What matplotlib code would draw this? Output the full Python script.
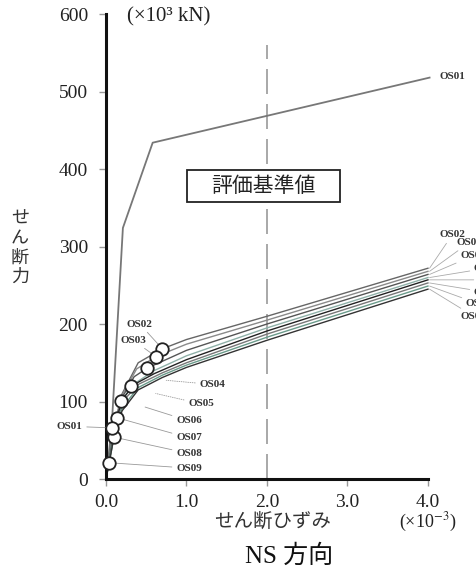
import matplotlib
matplotlib.use("Agg")
import matplotlib.pyplot as plt
from matplotlib.patches import Rectangle

plt.rcParams['font.family'] = ['Liberation Serif', 'Noto Sans CJK JP']
plt.rcParams['mathtext.fontset'] = 'stix'

# OS01 (stiff wall)
os01_x = [0.0, 0.07, 0.21, 0.58, 4.02]
os01_y = [0, 66, 324, 434, 518]
os01_marker = (0.07, 66)

# OS02 .. OS09 skeleton curves
names = ['OS02', 'OS03', 'OS04', 'OS05', 'OS06', 'OS07', 'OS08', 'OS09']
curve_x = [
    [0, 0.08, 0.2, 0.4, 0.70, 1.0, 2.0, 4.0],
    [0, 0.08, 0.2, 0.38, 0.62, 1.0, 2.0, 4.0],
    [0, 0.08, 0.2, 0.35, 0.51, 1.0, 2.0, 4.0],
    [0, 0.08, 0.2, 0.31, 0.6, 1.0, 2.0, 4.0],
    [0, 0.08, 0.19, 0.35, 0.6, 1.0, 2.0, 4.0],
    [0, 0.14, 0.25, 0.4, 0.7, 1.0, 2.0, 4.0],
    [0, 0.10, 0.2, 0.4, 0.7, 1.0, 2.0, 4.0],
    [0, 0.04, 0.1, 0.2, 0.4, 0.7, 1.0, 2.0, 4.0],
]
curve_y = [
    [0, 60, 110, 150, 168, 180, 210, 272],
    [0, 58, 108, 142, 158, 174, 205, 268],
    [0, 56, 105, 132, 143, 166, 200, 264],
    [0, 52, 100, 120, 140, 159, 195, 260],
    [0, 48, 101, 122, 136, 154, 191, 257],
    [0, 79, 105, 122, 137, 150, 187, 253],
    [0, 54, 92, 118, 134, 147, 183, 249],
    [0, 21, 55, 88, 115, 131, 144, 179, 245],
]
marker_x = [0.70, 0.62, 0.51, 0.31, 0.19, 0.14, 0.10, 0.04]
marker_y = [168, 158, 143, 120, 101, 79, 54, 21]
colors = ['#666666', '#8a8a8a', '#555555', '#8fb0a8', '#222222', '#777777', '#6a9a8a', '#333333']

# label positions (left cluster) and right-end fan labels
left_lab_x = [0.42, 0.34, 1.16, 1.02, 0.87, 0.87, 0.87, 0.87]
left_lab_y = [200, 179, 122, 97, 75, 53, 33, 14]
left_tip_x = [0.70, 0.62, 0.68, 0.55, 0.42, 0.14, 0.10, 0.04]
left_tip_y = [168, 158, 128, 112, 95, 79, 54, 21]
right_lab_x = [4.14, 4.35, 4.40, 4.57, 4.62, 4.57, 4.47, 4.41]
right_lab_y = [315, 305, 288, 272, 257, 241, 226, 210]

fig = plt.figure(figsize=(4.77, 5.74), dpi=100)
ax = fig.add_axes([0.2222, 0.1655, 0.675, 0.810])
ax.set_xlim(0, 4.0)
ax.set_ylim(0, 600)

# reference line at 2.0
ax.plot([2.0, 2.0], [0, 560], color='#9a9a9a', lw=1.2, dashes=(15, 6), zorder=1)

ax.plot(os01_x, os01_y, color='#777777', lw=1.3, clip_on=False, zorder=2)
for xs, ys, c in zip(curve_x, curve_y, colors):
    ax.plot(xs, ys, color=c, lw=1.0, clip_on=False, zorder=2)

ax.plot(marker_x, marker_y, 'o', ms=9, mfc='white', mec='#222222', mew=1.3,
        clip_on=False, zorder=4)
ax.plot(*os01_marker, 'o', ms=9, mfc='white', mec='#222222', mew=1.3,
        clip_on=False, zorder=4)

lab_kw = dict(fontsize=8, fontweight='bold', color='#333333')
for i, n in enumerate(names):
    ls = ':' if n in ('OS04', 'OS05') else '-'
    ax.annotate(n, xy=(left_tip_x[i], left_tip_y[i]), xytext=(left_lab_x[i], left_lab_y[i]),
                ha='center' if i < 2 else 'left', va='center',
                arrowprops=dict(arrowstyle='-', color='#999999', lw=0.6, ls=ls,
                                shrinkA=1, shrinkB=4),
                annotation_clip=False, **lab_kw)
    # right-end labels run off the page edge, as in the source figure
    ax.annotate(n, xy=(4.02, curve_y[i][-1]), xytext=(right_lab_x[i], right_lab_y[i]),
                ha='left', va='center',
                arrowprops=dict(arrowstyle='-', color='#aaaaaa', lw=0.6, shrinkA=1, shrinkB=0),
                annotation_clip=False, **lab_kw)

ax.annotate('OS01', xy=os01_marker, xytext=(-0.45, 68), ha='center', va='center',
            arrowprops=dict(arrowstyle='-', color='#999999', lw=0.6, shrinkA=1, shrinkB=4),
            annotation_clip=False, **lab_kw)
ax.text(4.14, 520, 'OS01', ha='left', va='center', clip_on=False, **lab_kw)

# evaluation box
ax.add_patch(Rectangle((1.01, 357), 1.90, 42, transform=ax.transData,
                       facecolor='white', edgecolor='#222222', lw=1.3, zorder=3))
ax.text(1.96, 378, '評価基準値', ha='center', va='center', fontsize=15,
        family=['Noto Sans CJK JP'], color='#222222', zorder=5)

ax.text(0.26, 597, '(×10³ kN)', ha='left', va='center', fontsize=15, clip_on=False,
        color='#222222')

# axes styling
for s in ('top', 'right'):
    ax.spines[s].set_visible(False)
for s in ('left', 'bottom'):
    ax.spines[s].set_linewidth(2.2)
    ax.spines[s].set_color('#111111')
ax.set_xticks([0, 1, 2, 3, 4])
ax.set_xticklabels(['0.0', '1.0', '2.0', '3.0', '4.0'])
ax.set_yticks([0, 100, 200, 300, 400, 500, 600])
ax.tick_params(axis='both', direction='out', length=5, width=1.0, color='#999999',
               labelsize=14, labelcolor='#222222')
ax.tick_params(axis='y', pad=8)
ax.tick_params(axis='x', pad=6)

fig.text(273 / 477, 1 - 521 / 574, 'せん断ひずみ', ha='center', va='center', fontsize=14,
         family=['Noto Sans CJK JP'], color='#333333')
fig.text(428 / 477, 1 - 522 / 574, r'(×10$^{-3}$)', ha='center', va='center', fontsize=13,
         color='#222222')
fig.text(289 / 477, 1 - 556 / 574, 'NS 方向', ha='center', va='center', fontsize=18,
         color='#111111')
fig.text(20 / 477, 1 - 248 / 574, 'せ\nん\n断\n力', ha='center', va='center', fontsize=13,
         family=['Noto Sans CJK JP'], linespacing=1.1, color='#333333')

fig.savefig('out.png', dpi=100)
